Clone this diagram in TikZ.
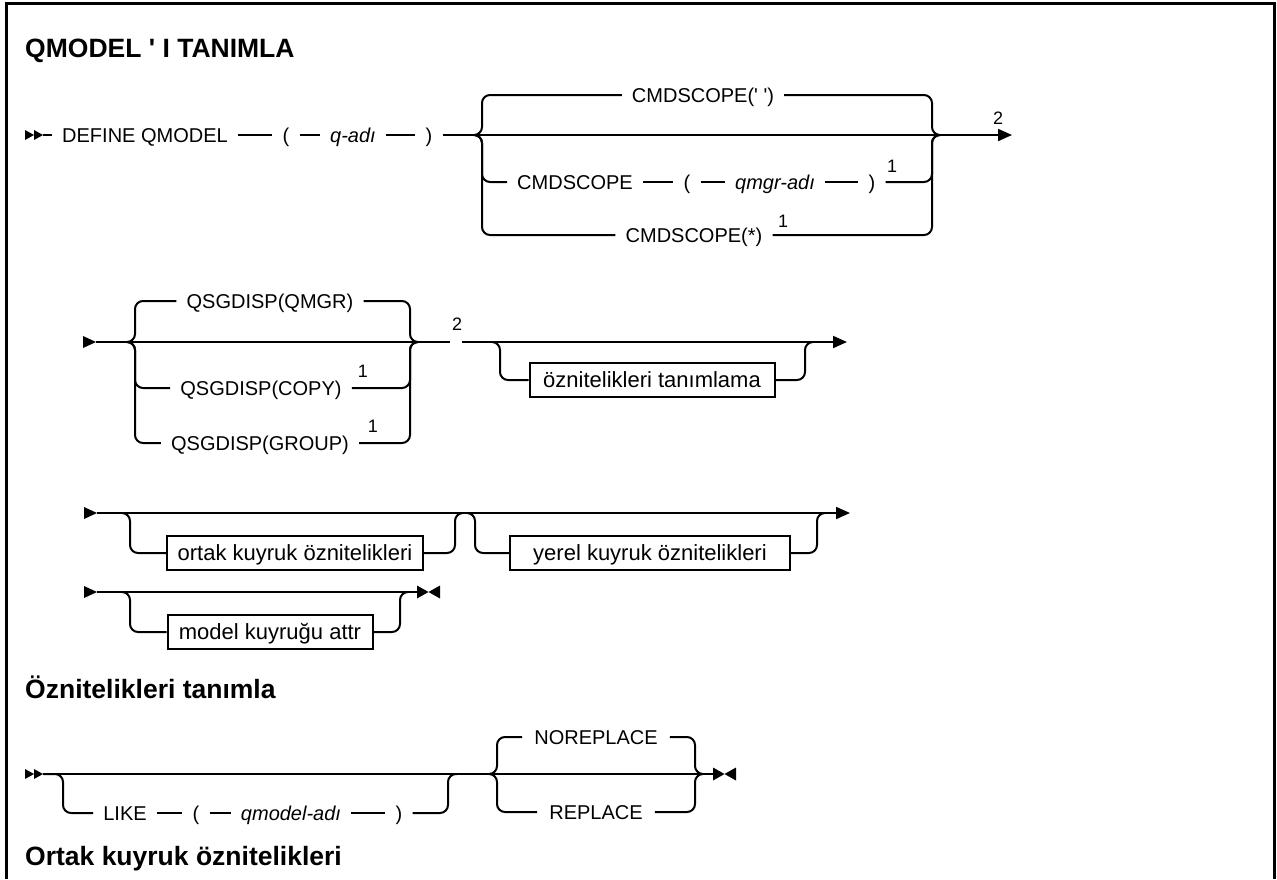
\documentclass[tikz,border=0pt]{standalone}
\usepackage{fontspec}
\setmainfont{Liberation Sans}
\usetikzlibrary{positioning, arrows.meta}
\tikzset{
    rail/.style={line width=2pt, rounded corners=8pt},
    railend/.style={line width=2pt, -{Triangle[length=14pt, width=12pt]}},
    token/.style={font=\fontsize{20}{24}\selectfont, inner xsep=10pt, inner ysep=0pt, text height=14.3pt, text depth=0pt},
    vartoken/.style={token, font=\fontsize{20}{24}\selectfont\itshape},
    optbox/.style={token, font=\fontsize{22}{26}\selectfont, draw, line width=2pt, inner ysep=9pt, inner xsep=6pt, text height=15.7pt},
    fnote/.style={font=\fontsize{18}{20}\selectfont, inner sep=0pt},
    heading/.style={font=\fontsize{26.5}{30}\selectfont\bfseries, anchor=base west, inner sep=0pt},
    startone/.pic={\fill (0,-6) -- (13,0) -- (0,6) -- cycle;},
    starttwo/.pic={\fill (0,-5) -- (9,0) -- (0,5) -- cycle; \fill (9,-5) -- (18,0) -- (9,5) -- cycle;},
    stopmark/.pic={\fill (0,-6.5) -- (11.5,0) -- (0,6.5) -- cycle; \fill (23,-6.5) -- (11.5,0) -- (23,6.5) -- cycle;}
}

\begin{document}
\begin{tikzpicture}[x=1pt, y=-1pt]
    \useasboundingbox (0,0) rectangle (1277,879);
    \draw[line width=3pt] (6.5,879) -- (6.5,3) -- (1274,3) -- (1274,879);

    \node[heading] (title) at (25,57) {QMODEL \textquotesingle{} I TANIMLA};

    % DEFINE QMODEL line
    \pic at (25,135) {starttwo};
    \coordinate (st1) at (43,135);
    \node[token] (define) at (145,135) {DEFINE QMODEL};
    \node[token] (lp1) at (286,135) {(};
    \node[vartoken] (qadi) at (353,135) {q-adı};
    \node[token] (rp1) at (429,135) {)};
    \coordinate (s1l) at (474,135);
    \coordinate (s1r) at (940,135);
    \coordinate (c1l) at (482,0);
    \coordinate (c1r) at (932,0);
    \coordinate (e1) at (1012,135);
    \node[token] (cmdq) at (703,95) {CMDSCOPE(\textquotesingle{} \textquotesingle)};
    \node[token] (cmds) at (575,182) {CMDSCOPE};
    \node[token] (lp2) at (687,182) {(};
    \node[vartoken] (qmgr) at (775,182) {qmgr-adı};
    \node[token] (rp2) at (872,182) {)};
    \node[fnote] (f1a) at (892,166) {1};
    \node[token] (cmdstar) at (694,235) {CMDSCOPE(*)};
    \node[fnote] (f1b) at (783,221) {1};
    \node[fnote] (f2a) at (998,118) {2};

    \draw[rail] (st1) -- (define);
    \draw[rail] (define) -- (lp1);
    \draw[rail] (lp1) -- (qadi);
    \draw[rail] (qadi) -- (rp1);
    \draw[railend] (rp1) -- (e1);
    \draw[rail] (s1l) -| (c1l |- cmdq) -- (cmdq);
    \draw[rail] (cmdq) -| (c1r |- s1r) -- (s1r);
    \draw[rail] (s1l) -| (c1l |- cmds) -- (cmds);
    \draw[rail] (cmds) -- (lp2);
    \draw[rail] (lp2) -- (qmgr);
    \draw[rail] (qmgr) -- (rp2);
    \draw[rail] (rp2) -| (c1r |- s1r) -- (s1r);
    \draw[rail] (s1l) -| (c1l |- cmdstar) -- (cmdstar);
    \draw[rail] (cmdstar) -| (c1r |- s1r) -- (s1r);

    % QSGDISP line
    \pic at (83,342) {startone};
    \coordinate (st2) at (96,342);
    \coordinate (s2l) at (127,342);
    \coordinate (s2r) at (418,342);
    \coordinate (c2l) at (135,0);
    \coordinate (c2r) at (410,0);
    \node[token] (dqmgr) at (270,301) {QSGDISP(QMGR)};
    \node[token] (dcopy) at (261,388) {QSGDISP(COPY)};
    \node[fnote] (f1c) at (363,371) {1};
    \node[token] (dgroup) at (260,443) {QSGDISP(GROUP)};
    \node[fnote] (f1d) at (373,426) {1};
    \node[fnote] (f2b) at (457,324) {2};
    \coordinate (g2a) at (450,342);
    \coordinate (g2b) at (462,342);
    \coordinate (s3l) at (492,342);
    \coordinate (s3r) at (813,342);
    \coordinate (c3l) at (500,0);
    \coordinate (c3r) at (805,0);
    \coordinate (e2) at (847,342);
    \node[optbox, minimum width=245pt] (defattr) at (652,380) {öznitelikleri tanımlama};

    \draw[rail] (st2) -- (g2a);
    \draw[rail] (s2l) -| (c2l |- dqmgr) -- (dqmgr);
    \draw[rail] (dqmgr) -| (c2r |- s2r) -- (s2r);
    \draw[rail] (s2l) -| (c2l |- dcopy) -- (dcopy);
    \draw[rail] (dcopy) -| (c2r |- s2r) -- (s2r);
    \draw[rail] (s2l) -| (c2l |- dgroup) -- (dgroup);
    \draw[rail] (dgroup) -| (c2r |- s2r) -- (s2r);
    \draw[railend] (g2b) -- (e2);
    \draw[rail] (s3l) -| (c3l |- defattr) -- (defattr);
    \draw[rail] (defattr) -| (c3r |- s3r) -- (s3r);

    % queue attribute line
    \pic at (84,513) {startone};
    \coordinate (st3) at (97,513);
    \coordinate (s4l) at (122,513);
    \coordinate (s4r) at (463,513);
    \coordinate (c4l) at (130,0);
    \coordinate (c4r) at (455,0);
    \coordinate (s5l) at (467,513);
    \coordinate (s5r) at (825,513);
    \coordinate (c5l) at (475,0);
    \coordinate (c5r) at (817,0);
    \coordinate (e3) at (850,513);
    \node[optbox, minimum width=256pt] (common) at (295,553) {ortak kuyruk öznitelikleri};
    \node[optbox, minimum width=280pt] (local) at (650,553) {yerel kuyruk öznitelikleri};

    \draw[railend] (st3) -- (e3);
    \draw[rail] (s4l) -| (c4l |- common) -- (common);
    \draw[rail] (common) -| (c4r |- s4r) -- (s4r);
    \draw[rail] (s5l) -| (c5l |- local) -- (local);
    \draw[rail] (local) -| (c5r |- s5r) -- (s5r);

    % model queue line
    \pic at (84,592) {startone};
    \coordinate (st4) at (97,592);
    \coordinate (s6l) at (122,592);
    \coordinate (s6r) at (408,592);
    \coordinate (c6l) at (130,0);
    \coordinate (c6r) at (400,0);
    \coordinate (e4) at (417,592);
    \node[optbox, minimum width=205pt] (model) at (270,632) {model kuyruğu attr};

    \draw[rail] (st4) -- (e4);
    \pic at (e4) {stopmark};
    \draw[rail] (s6l) -| (c6l |- model) -- (model);
    \draw[rail] (model) -| (c6r |- s6r) -- (s6r);

    \node[heading] (sec1) at (25,698) {Öznitelikleri tanımla};

    % LIKE / REPLACE line
    \pic at (25,774) {starttwo};
    \coordinate (st5) at (43,774);
    \coordinate (c7l) at (63,0);
    \coordinate (c7r) at (448,0);
    \coordinate (s7r) at (457,774);
    \node[token] (like) at (125,813) {LIKE};
    \node[token] (lp3) at (196,813) {(};
    \node[vartoken] (qmod) at (291,813) {qmodel-adı};
    \node[token] (rp3) at (399,813) {)};
    \coordinate (s8l) at (489,774);
    \coordinate (s8r) at (703,774);
    \coordinate (c8l) at (497,0);
    \coordinate (c8r) at (695,0);
    \coordinate (e5) at (713,774);
    \node[token, inner xsep=12pt] (norep) at (596,737) {NOREPLACE};
    \node[token, inner xsep=12pt] (rep) at (596,812) {REPLACE};

    \draw[rail] (st5) -- (e5);
    \pic at (e5) {stopmark};
    \draw[rail] (st5) -| (c7l |- like) -- (like);
    \draw[rail] (like) -- (lp3);
    \draw[rail] (lp3) -- (qmod);
    \draw[rail] (qmod) -- (rp3);
    \draw[rail] (rp3) -| (c7r |- s7r) -- (s7r);
    \draw[rail] (s8l) -| (c8l |- norep) -- (norep);
    \draw[rail] (norep) -| (c8r |- s8r) -- (s8r);
    \draw[rail] (s8l) -| (c8l |- rep) -- (rep);
    \draw[rail] (rep) -| (c8r |- s8r) -- (s8r);

    \node[heading] (sec2) at (25,865) {Ortak kuyruk öznitelikleri};
\end{tikzpicture}
\end{document}
